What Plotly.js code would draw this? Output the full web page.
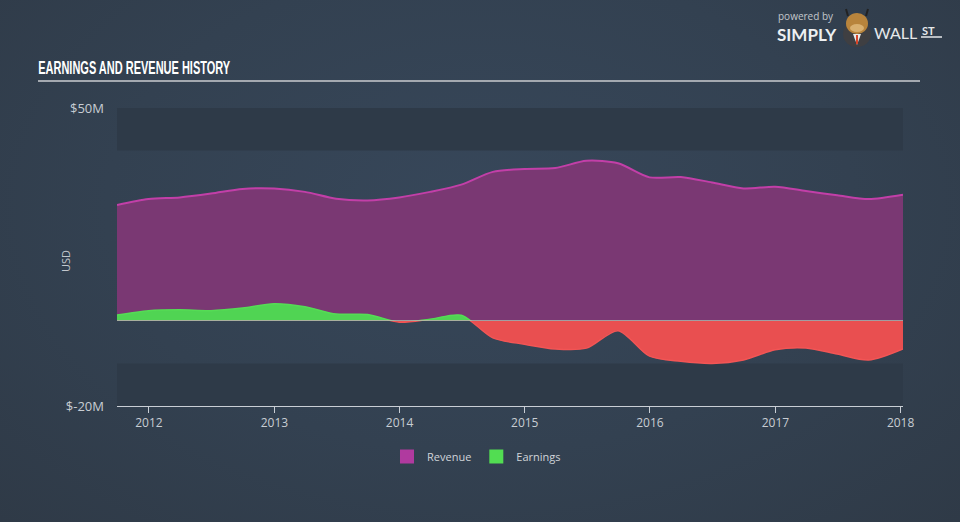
<!DOCTYPE html>
<html>
<head>
<meta charset="utf-8">
<script src="https://cdn.plot.ly/plotly-3.0.1.min.js"></script>
<style>
html,body{margin:0;padding:0;}
body{width:960px;height:522px;background:radial-gradient(ellipse at 50% 40%, #37475a 0%, #334151 55%, #2f3a47 100%);overflow:hidden;}
#chart{width:960px;height:522px;}
</style>
</head>
<body>
<div id="chart"></div>
<script>
// ---- data (values in USD millions) ----
const dates = ['2011-09-30','2011-12-31','2012-03-31','2012-06-30','2012-09-30','2012-12-31',
  '2013-03-31','2013-06-30','2013-09-30','2013-12-31','2014-03-31','2014-06-30','2014-09-30',
  '2014-12-31','2015-03-31','2015-06-30','2015-09-30','2015-12-31','2016-03-31','2016-06-30',
  '2016-09-30','2016-12-31','2017-03-31','2017-06-30','2017-09-30','2018-01-08'];
const revenue = [27.2,28.6,29.0,29.9,31.0,31.1,30.3,28.7,28.3,29.0,30.3,32.0,35.0,
  35.7,35.9,37.6,37.0,33.7,33.8,32.5,31.1,31.5,30.5,29.5,28.6,29.6];
const earnings = [1.4,2.4,2.6,2.4,3.0,4.0,3.3,1.6,1.5,-0.3,0.4,1.3,-4.0,
  -5.5,-6.6,-6.4,-2.3,-8.3,-9.5,-10.0,-9.2,-6.8,-6.4,-7.8,-9.2,-6.6];
const yearTicks = ['2012-01-01','2013-01-01','2014-01-01','2015-01-01','2016-01-01','2017-01-01','2018-01-01'];
const yearLabels = ['2012','2013','2014','2015','2016','2017','2018'];
const topTick = [50], topTickText = ['$50M'];
const bottomTick = [-20], bottomTickText = ['$-20M'];

// ---- helpers for layout placement ----
const L = 117, R = 903, T = 108, B = 406;
const px = x => (x - L) / (R - L);
const py = y => (B - y) / (B - T);
const zeroFrac = 20 / 70;

const sp = {shape: 'spline', smoothing: 0.8};
const traces = [
  {x: dates, y: revenue, xaxis: 'x', yaxis: 'y', type: 'scatter', mode: 'lines', fill: 'tozeroy',
   fillcolor: '#7a3873', line: Object.assign({color: '#c23fa8', width: 2}, sp), showlegend: false, hoverinfo: 'skip'},
  {x: dates, y: earnings, xaxis: 'x', yaxis: 'y', type: 'scatter', mode: 'lines', fill: 'tozeroy',
   fillcolor: '#50d453', line: Object.assign({color: '#55dc55', width: 1.5}, sp), showlegend: false, hoverinfo: 'skip'},
  {x: dates, y: earnings, xaxis: 'x', yaxis: 'y2', type: 'scatter', mode: 'lines', fill: 'tozeroy',
   fillcolor: '#e94f50', line: Object.assign({color: '#f25555', width: 1.5}, sp), showlegend: false, hoverinfo: 'skip'},
  {x: [null], y: [null], xaxis: 'x', yaxis: 'y', type: 'scatter', mode: 'markers', name: 'Revenue',
   marker: {symbol: 'square', size: 14, color: '#b03a9f'}},
  {x: [null], y: [null], xaxis: 'x', yaxis: 'y', type: 'scatter', mode: 'markers', name: 'Earnings',
   marker: {symbol: 'square', size: 14, color: '#52dd52'}}
];

const band = '#2e3a48';
const shapes = [
  {type: 'rect', xref: 'paper', yref: 'y', x0: 0, x1: 1, y0: 40, y1: 50, fillcolor: band, line: {width: 0}, layer: 'below'},
  {type: 'rect', xref: 'paper', yref: 'y2', x0: 0, x1: 1, y0: -20, y1: -10, fillcolor: band, line: {width: 0}, layer: 'below'},
  {type: 'line', xref: 'paper', yref: 'y', x0: 0, x1: 1, y0: 0, y1: 0, line: {color: 'rgba(205,205,205,0.8)', width: 1.5}, layer: 'above'},
  // title underline
  {type: 'line', xref: 'paper', yref: 'paper', x0: px(38), x1: px(920), y0: py(81), y1: py(81), line: {color: '#a4a9b0', width: 2}},
  // logo mascot (simplified)
  {type: 'circle', xref: 'paper', yref: 'paper', x0: px(843), x1: px(871), y0: py(47), y1: py(21), fillcolor: '#3f3f42', line: {width: 0}},
  {type: 'path', xref: 'paper', yref: 'paper',
   path: `M ${px(853)} ${py(34)} L ${px(861)} ${py(34)} L ${px(857)} ${py(45)} Z`, fillcolor: '#e8e8e8', line: {width: 0}},
  {type: 'line', xref: 'paper', yref: 'paper', x0: px(857), x1: px(857), y0: py(35), y1: py(44), line: {color: '#d8452a', width: 2}},
  {type: 'line', xref: 'paper', yref: 'paper', x0: px(848), x1: px(846), y0: py(16), y1: py(9), line: {color: '#222', width: 2}},
  {type: 'line', xref: 'paper', yref: 'paper', x0: px(866), x1: px(868), y0: py(16), y1: py(9), line: {color: '#222', width: 2}},
  {type: 'circle', xref: 'paper', yref: 'paper', x0: px(846), x1: px(868), y0: py(34), y1: py(13), fillcolor: '#b8843c', line: {width: 0}},
  {type: 'circle', xref: 'paper', yref: 'paper', x0: px(850), x1: px(864), y0: py(32), y1: py(24), fillcolor: '#d9b070', line: {width: 0}},
  {type: 'line', xref: 'paper', yref: 'paper', x0: px(921), x1: px(942), y0: py(37), y1: py(37), line: {color: '#e6e8ea', width: 1.5}}
];

const annotations = [
  {text: '<b>EARNINGS AND REVENUE HISTORY</b>', xref: 'paper', yref: 'paper', x: px(134), y: py(68),
   xanchor: 'center', yanchor: 'middle', showarrow: false, name: 'charttitle',
   font: {family: 'Liberation Sans, Arial, sans-serif', size: 18, color: '#ffffff'}},
  {text: 'USD', xref: 'paper', yref: 'paper', x: px(65), y: py(261), textangle: -90,
   xanchor: 'center', yanchor: 'middle', showarrow: false,
   font: {family: 'Open Sans, sans-serif', size: 11, color: '#c2c7cd'}},
  {text: 'powered by', xref: 'paper', yref: 'paper', x: px(776), y: py(16), xanchor: 'left', yanchor: 'middle',
   showarrow: false, font: {family: 'Open Sans, sans-serif', size: 10, color: '#c3c7cc'}},
  {text: '<b>SIMPLY</b>', xref: 'paper', yref: 'paper', x: px(775), y: py(34), xanchor: 'left', yanchor: 'middle',
   showarrow: false, font: {family: 'Lato, sans-serif', size: 17, color: '#eef0f2'}},
  {text: 'WALL', xref: 'paper', yref: 'paper', x: px(872), y: py(33), xanchor: 'left', yanchor: 'middle',
   showarrow: false, font: {family: 'Lato, sans-serif', size: 16, color: '#e6e8ea'}},
  {text: '<b>ST</b>', xref: 'paper', yref: 'paper', x: px(920), y: py(30), xanchor: 'left', yanchor: 'middle',
   showarrow: false, font: {family: 'Lato, sans-serif', size: 11, color: '#e6e8ea'}}
];

const tickFont = {family: 'Open Sans, sans-serif', size: 12, color: '#c8cdd3'};
const yTickFont = {family: 'Open Sans, sans-serif', size: 13, color: '#c8cdd3'};
const layout = {
  width: 960, height: 522,
  paper_bgcolor: 'rgba(0,0,0,0)', plot_bgcolor: 'rgba(0,0,0,0)',
  margin: {l: L, r: 960 - R, t: T, b: 522 - B, pad: 0},
  font: tickFont,
  xaxis: {type: 'date', anchor: 'y2', range: ['2011-09-30', '2018-01-08'], tickvals: yearTicks, ticktext: yearLabels,
          showgrid: false, zeroline: false, showline: true, linecolor: '#c9ced5', linewidth: 1,
          ticks: 'outside', ticklen: 6, tickcolor: '#c9ced5', tickfont: tickFont, fixedrange: true},
  yaxis: {domain: [zeroFrac, 1], range: [0, 50], tickvals: topTick, ticktext: topTickText,
          showgrid: false, zeroline: false, showline: false, ticks: '', ticklabelstandoff: 12, tickfont: yTickFont, fixedrange: true},
  yaxis2: {domain: [0, zeroFrac], range: [-20, 0], tickvals: bottomTick, ticktext: bottomTickText,
          showgrid: false, zeroline: false, showline: false, ticks: '', ticklabelstandoff: 12, tickfont: yTickFont, fixedrange: true},
  showlegend: true,
  legend: {orientation: 'h', x: px(387), xanchor: 'left', y: py(442), yanchor: 'top',
           font: {family: 'Open Sans, sans-serif', size: 11, color: '#d0d4d9'}, bgcolor: 'rgba(0,0,0,0)'},
  shapes: shapes,
  annotations: annotations,
  hovermode: false
};

Plotly.newPlot('chart', traces, layout, {staticPlot: true, displayModeBar: false}).then(function (gd) {
  // condense the title text horizontally to mimic the narrow display face
  const t = gd.querySelector('.annotation[data-index="0"] text.annotation-text');
  if (t) {
    t.setAttribute('textLength', '192');
    t.setAttribute('lengthAdjust', 'spacingAndGlyphs');
  }
});
</script>
</body>
</html>
